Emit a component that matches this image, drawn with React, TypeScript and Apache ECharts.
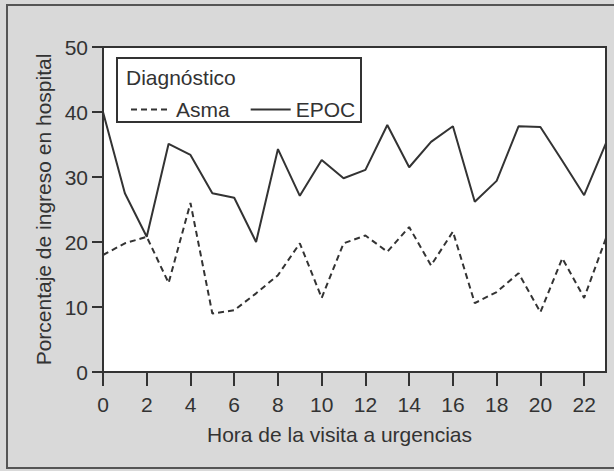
import React, { useEffect, useRef } from "react";
import * as echarts from "echarts";

const hours = ["0","1","2","3","4","5","6","7","8","9","10","11","12","13","14","15","16","17","18","19","20","21","22","23"];
const asma = [18, 19.8, 20.8, 13.7, 26, 9, 9.5, 12.1, 14.9, 19.8, 11.4, 19.8, 21, 18.5, 22.3, 16.4, 21.6, 10.6, 12.3, 15.2, 9.2, 17.5, 11.4, 20.6];
const epoc = [40, 27.5, 20.8, 35.1, 33.4, 27.5, 26.8, 20, 34.3, 27.1, 32.6, 29.8, 31.1, 38, 31.5, 35.4, 37.8, 26.2, 29.4, 37.8, 37.7, 32.5, 27.2, 35.2];
const seriesNames = ["Asma", "EPOC"];
const legendTitle = "Diagnóstico";
const xTitle = "Hora de la visita a urgencias";
const yTitle = "Porcentaje de ingreso en hospital";

const FONT = "Liberation Sans, Arial, Helvetica, sans-serif";
const INK = "#333333";
const FS = 21;

export default function App() {
  const ref = useRef<HTMLDivElement>(null);
  useEffect(() => {
    if (!ref.current) return;
    const chart = echarts.init(ref.current, undefined, { renderer: "svg" });
    chart.setOption({
      animation: false,
      backgroundColor: "#d9d9d9",
      textStyle: { fontFamily: FONT, color: INK },
      grid: {
        left: 103,
        top: 47,
        width: 503,
        height: 325,
        show: true,
        backgroundColor: "#ffffff",
        borderColor: INK,
        borderWidth: 2,
      },
      xAxis: {
        type: "category",
        data: hours,
        boundaryGap: false,
        name: xTitle,
        nameLocation: "middle",
        nameGap: 52,
        nameTextStyle: { fontSize: FS, color: INK, fontFamily: FONT, padding: [0, 30, 0, 0] },
        axisLine: { lineStyle: { color: INK, width: 2 } },
        axisTick: { show: true, interval: 1, length: 14, lineStyle: { color: INK, width: 2 } },
        axisLabel: { interval: 1, fontSize: FS, color: INK, margin: 22, fontFamily: FONT },
        splitLine: { show: false },
      },
      yAxis: {
        type: "value",
        min: 0,
        max: 50,
        interval: 10,
        name: yTitle,
        nameLocation: "middle",
        nameRotate: 90,
        nameGap: 44,
        nameTextStyle: { fontSize: FS, color: INK, fontFamily: FONT },
        axisLine: { show: true, lineStyle: { color: INK, width: 2 } },
        axisTick: { show: true, length: 11, lineStyle: { color: INK, width: 2 } },
        axisLabel: { fontSize: FS, color: INK, margin: 15, fontFamily: FONT },
        splitLine: { show: false },
      },
      legend: {
        left: 125,
        top: 94,
        z: 200,
        itemWidth: 40,
        itemHeight: 14,
        itemGap: 20,
        itemStyle: { opacity: 0 },
        textStyle: { fontSize: FS, color: INK, fontFamily: FONT },
        data: seriesNames,
      },
      graphic: [
        {
          type: "rect",
          shape: { x: 7, y: 5, width: 640, height: 463 },
          style: { fill: "none", stroke: "#555", lineWidth: 2 },
          silent: true,
        },
        {
          type: "rect",
          shape: { x: 117, y: 58, width: 244, height: 64 },
          style: { fill: "#ffffff", stroke: INK, lineWidth: 2 },
          z: 90,
          silent: true,
        },
        {
          type: "text",
          x: 126,
          y: 77,
          style: { text: legendTitle, fontSize: FS, fill: INK, fontFamily: FONT, verticalAlign: "middle" },
          z: 100,
          silent: true,
        },
      ],
      series: [
        {
          name: seriesNames[0],
          type: "line",
          data: asma,
          symbol: "none",
          lineStyle: { color: INK, width: 2, type: [6, 4] },
          itemStyle: { color: INK },
        },
        {
          name: seriesNames[1],
          type: "line",
          data: epoc,
          symbol: "none",
          lineStyle: { color: INK, width: 2, type: "solid" },
          itemStyle: { color: INK },
        },
      ],
    });
    return () => chart.dispose();
  }, []);
  return (
    <div
      ref={ref}
      style={{ position: "fixed", left: 0, top: 0, width: 614, height: 471 }}
    />
  );
}
